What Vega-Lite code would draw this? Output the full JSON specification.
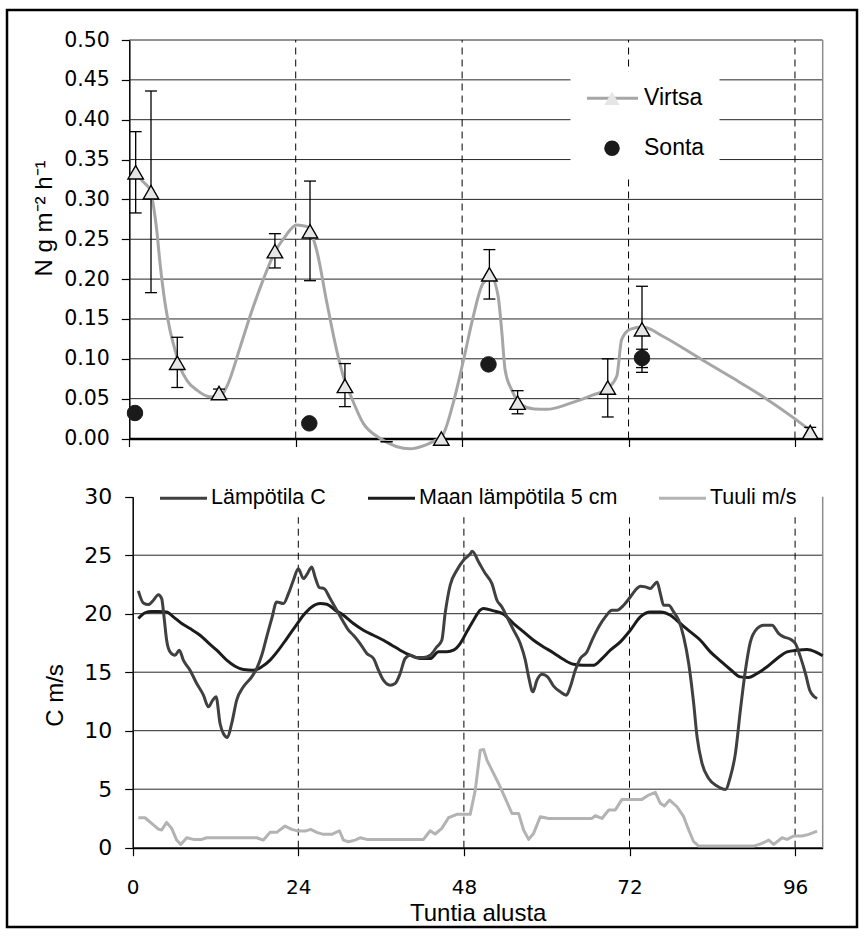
{
  "$schema": "https://vega.github.io/schema/vega-lite/v6.json",
  "width": 850,
  "height": 917,
  "autosize": {"type": "none"},
  "padding": {"left": 7, "top": 10, "right": 10, "bottom": 10},
  "background": "white",
  "config": {
    "view": {"stroke": "black", "strokeWidth": 2.5},
    "axis": {"labelFlush": false, "labelOverlap": false, "grid": false, "domainColor": "black", "tickColor": "black", "labelColor": "black", "titleColor": "black", "titleFontWeight": "normal"}
  },
  "datasets": {
    "topGrid": [{"v": 0.05}, {"v": 0.1}, {"v": 0.15}, {"v": 0.2}, {"v": 0.25}, {"v": 0.3}, {"v": 0.35}, {"v": 0.4}, {"v": 0.45}, {"v": 0.5}],
    "botGrid": [{"v": 5}, {"v": 10}, {"v": 15}, {"v": 20}, {"v": 25}],
    "vlines": [{"h": 24}, {"h": 48}, {"h": 72}, {"h": 96}],
    "virtsa": [
      {"h": 0.92, "v": 0.334}, {"h": 3.13, "v": 0.309}, {"h": 6.92, "v": 0.095}, {"h": 12.94, "v": 0.057},
      {"h": 21.0, "v": 0.235}, {"h": 26.06, "v": 0.26}, {"h": 31.1, "v": 0.066}, {"h": 45.0, "v": 0.0},
      {"h": 51.93, "v": 0.206}, {"h": 56.0, "v": 0.045}, {"h": 69.0, "v": 0.064}, {"h": 73.94, "v": 0.137},
      {"h": 98.2, "v": 0.008}
    ],
    "errors": [
      {"h": 0.92, "lo": 0.283, "hi": 0.385}, {"h": 3.13, "lo": 0.183, "hi": 0.436}, {"h": 6.92, "lo": 0.064, "hi": 0.127},
      {"h": 12.94, "lo": 0.052, "hi": 0.062}, {"h": 21.0, "lo": 0.214, "hi": 0.257}, {"h": 26.06, "lo": 0.198, "hi": 0.323},
      {"h": 31.1, "lo": 0.04, "hi": 0.094}, {"h": 37.1, "lo": -0.004, "hi": -0.004}, {"h": 51.93, "lo": 0.175, "hi": 0.237},
      {"h": 56.0, "lo": 0.031, "hi": 0.06}, {"h": 69.0, "lo": 0.027, "hi": 0.1}, {"h": 73.94, "lo": 0.083, "hi": 0.191},
      {"h": 73.94, "lo": 0.089, "hi": 0.112}, {"h": 98.2, "lo": 0.002, "hi": 0.014}
    ],
    "sonta": [{"h": 0.82, "v": 0.032}, {"h": 25.96, "v": 0.019}, {"h": 51.8, "v": 0.093}, {"h": 73.94, "v": 0.101}],
    "curve": [
      {"h": 0.92, "v": 0.333}, {"h": 2.0, "v": 0.322}, {"h": 3.0, "v": 0.312}, {"h": 3.5, "v": 0.291}, {"h": 3.95, "v": 0.262},
      {"h": 4.43, "v": 0.22}, {"h": 5.15, "v": 0.17}, {"h": 5.87, "v": 0.136}, {"h": 6.6, "v": 0.111}, {"h": 7.3, "v": 0.09},
      {"h": 8.3, "v": 0.073}, {"h": 9.7, "v": 0.061}, {"h": 11.6, "v": 0.0525}, {"h": 13.1, "v": 0.0525}, {"h": 14.05, "v": 0.065},
      {"h": 16.0, "v": 0.115}, {"h": 17.4, "v": 0.153}, {"h": 19.3, "v": 0.199}, {"h": 21.0, "v": 0.234}, {"h": 22.45, "v": 0.253},
      {"h": 24.1, "v": 0.268}, {"h": 25.6, "v": 0.266}, {"h": 27.0, "v": 0.237}, {"h": 28.5, "v": 0.17}, {"h": 29.9, "v": 0.111},
      {"h": 31.1, "v": 0.072}, {"h": 31.6, "v": 0.061}, {"h": 33.75, "v": 0.019}, {"h": 36.2, "v": 0.0}, {"h": 38.5, "v": -0.01},
      {"h": 40.5, "v": -0.013}, {"h": 42.5, "v": -0.009}, {"h": 44.0, "v": -0.003}, {"h": 45.05, "v": 0.002}, {"h": 46.7, "v": 0.044},
      {"h": 48.2, "v": 0.0985}, {"h": 49.6, "v": 0.153}, {"h": 51.05, "v": 0.195}, {"h": 52.26, "v": 0.201}, {"h": 53.2, "v": 0.178},
      {"h": 53.7, "v": 0.136}, {"h": 54.2, "v": 0.086}, {"h": 55.15, "v": 0.061}, {"h": 56.6, "v": 0.042}, {"h": 58.4, "v": 0.037},
      {"h": 60.2, "v": 0.0366}, {"h": 63.55, "v": 0.044}, {"h": 66.9, "v": 0.0546}, {"h": 69.0, "v": 0.063}, {"h": 70.3, "v": 0.078},
      {"h": 71.0, "v": 0.124}, {"h": 72.2, "v": 0.137}, {"h": 74.1, "v": 0.14}, {"h": 77.0, "v": 0.128}, {"h": 81.8, "v": 0.103},
      {"h": 86.6, "v": 0.078}, {"h": 91.4, "v": 0.0525}, {"h": 96.25, "v": 0.023}, {"h": 98.2, "v": 0.01}
    ],
    "air": [
      {"h": 0.82, "v": 21.95}, {"h": 1.54, "v": 20.92}, {"h": 2.27, "v": 20.78}, {"h": 3.0, "v": 21.15}, {"h": 3.72, "v": 21.63},
      {"h": 4.2, "v": 21.29}, {"h": 4.54, "v": 19.73}, {"h": 4.92, "v": 17.73}, {"h": 5.41, "v": 16.74}, {"h": 6.13, "v": 16.45},
      {"h": 6.76, "v": 16.88}, {"h": 7.34, "v": 16.03}, {"h": 8.31, "v": 15.17}, {"h": 9.28, "v": 14.03}, {"h": 10.25, "v": 13.04},
      {"h": 10.97, "v": 12.04}, {"h": 11.6, "v": 12.61}, {"h": 12.08, "v": 12.9}, {"h": 12.66, "v": 10.62}, {"h": 13.14, "v": 9.76},
      {"h": 13.72, "v": 9.42}, {"h": 14.35, "v": 10.62}, {"h": 15.07, "v": 12.61}, {"h": 16.04, "v": 13.75}, {"h": 17.25, "v": 14.6},
      {"h": 17.97, "v": 15.31}, {"h": 18.7, "v": 16.45}, {"h": 19.42, "v": 18.02}, {"h": 20.15, "v": 19.58}, {"h": 20.87, "v": 21.0},
      {"h": 21.84, "v": 20.87}, {"h": 22.57, "v": 21.72}, {"h": 23.29, "v": 22.86}, {"h": 24.0, "v": 23.85}, {"h": 24.74, "v": 23.0},
      {"h": 25.32, "v": 23.43}, {"h": 25.95, "v": 24.0}, {"h": 26.43, "v": 23.14}, {"h": 27.06, "v": 22.23}, {"h": 27.74, "v": 22.15},
      {"h": 28.61, "v": 21.29}, {"h": 29.58, "v": 20.3}, {"h": 30.54, "v": 19.3}, {"h": 31.27, "v": 18.59}, {"h": 31.99, "v": 18.16},
      {"h": 32.96, "v": 17.45}, {"h": 33.93, "v": 16.6}, {"h": 34.9, "v": 16.17}, {"h": 35.62, "v": 15.17}, {"h": 36.34, "v": 14.32},
      {"h": 37.31, "v": 13.89}, {"h": 38.03, "v": 14.03}, {"h": 38.76, "v": 14.89}, {"h": 39.48, "v": 16.17}, {"h": 40.21, "v": 16.45},
      {"h": 41.17, "v": 16.25}, {"h": 42.14, "v": 16.25}, {"h": 43.11, "v": 16.45}, {"h": 44.07, "v": 17.16}, {"h": 44.8, "v": 17.73},
      {"h": 45.28, "v": 20.01}, {"h": 46.01, "v": 22.43}, {"h": 46.98, "v": 23.71}, {"h": 47.94, "v": 24.57}, {"h": 48.9, "v": 25.1},
      {"h": 49.2, "v": 25.33}, {"h": 50.13, "v": 24.42}, {"h": 51.1, "v": 23.43}, {"h": 52.06, "v": 22.57}, {"h": 52.79, "v": 21.15},
      {"h": 53.51, "v": 20.58}, {"h": 54.24, "v": 19.73}, {"h": 55.2, "v": 18.59}, {"h": 56.17, "v": 17.45}, {"h": 56.9, "v": 16.03},
      {"h": 57.38, "v": 14.6}, {"h": 58.0, "v": 13.32}, {"h": 58.59, "v": 14.32}, {"h": 59.31, "v": 14.83}, {"h": 60.13, "v": 14.6},
      {"h": 61.0, "v": 13.81}, {"h": 61.97, "v": 13.32}, {"h": 62.84, "v": 13.04}, {"h": 63.42, "v": 13.75}, {"h": 64.14, "v": 15.17},
      {"h": 64.87, "v": 16.17}, {"h": 65.84, "v": 16.74}, {"h": 66.56, "v": 17.73}, {"h": 67.53, "v": 18.87}, {"h": 68.5, "v": 19.73},
      {"h": 69.46, "v": 20.3}, {"h": 70.19, "v": 20.3}, {"h": 71.15, "v": 20.72}, {"h": 72.12, "v": 21.43}, {"h": 72.84, "v": 22.0},
      {"h": 73.57, "v": 22.35}, {"h": 74.3, "v": 22.29}, {"h": 75.02, "v": 22.15}, {"h": 75.5, "v": 22.43}, {"h": 75.99, "v": 22.72},
      {"h": 76.47, "v": 21.72}, {"h": 76.95, "v": 20.72}, {"h": 77.68, "v": 20.72}, {"h": 78.4, "v": 20.15}, {"h": 79.13, "v": 19.44},
      {"h": 79.85, "v": 18.02}, {"h": 80.58, "v": 15.74}, {"h": 81.3, "v": 12.33}, {"h": 81.79, "v": 9.48}, {"h": 82.51, "v": 7.2},
      {"h": 83.48, "v": 5.92}, {"h": 84.69, "v": 5.27}, {"h": 85.9, "v": 4.98}, {"h": 86.62, "v": 6.06}, {"h": 87.35, "v": 8.06},
      {"h": 88.07, "v": 11.76}, {"h": 88.8, "v": 15.17}, {"h": 89.52, "v": 17.59}, {"h": 90.49, "v": 18.73}, {"h": 91.45, "v": 19.02},
      {"h": 92.66, "v": 19.02}, {"h": 93.63, "v": 18.3}, {"h": 94.35, "v": 18.02}, {"h": 95.32, "v": 17.82}, {"h": 96.04, "v": 17.45},
      {"h": 96.77, "v": 16.31}, {"h": 97.5, "v": 14.89}, {"h": 98.12, "v": 13.46}, {"h": 98.7, "v": 12.95}, {"h": 99.19, "v": 12.75}
    ],
    "soil": [
      {"h": 0.82, "v": 19.58}, {"h": 1.78, "v": 20.07}, {"h": 2.75, "v": 20.18}, {"h": 3.72, "v": 20.18}, {"h": 4.92, "v": 20.15},
      {"h": 5.89, "v": 19.73}, {"h": 7.1, "v": 19.16}, {"h": 8.31, "v": 18.73}, {"h": 9.76, "v": 18.16}, {"h": 10.97, "v": 17.51},
      {"h": 12.18, "v": 16.88}, {"h": 13.62, "v": 16.03}, {"h": 14.83, "v": 15.51}, {"h": 16.04, "v": 15.23}, {"h": 17.49, "v": 15.17},
      {"h": 18.7, "v": 15.46}, {"h": 19.91, "v": 16.03}, {"h": 21.12, "v": 16.88}, {"h": 22.33, "v": 17.88}, {"h": 23.53, "v": 18.87},
      {"h": 24.74, "v": 19.87}, {"h": 25.95, "v": 20.58}, {"h": 27.16, "v": 20.87}, {"h": 28.13, "v": 20.81}, {"h": 29.34, "v": 20.3},
      {"h": 30.54, "v": 19.87}, {"h": 31.99, "v": 19.16}, {"h": 33.44, "v": 18.59}, {"h": 34.9, "v": 18.16}, {"h": 36.34, "v": 17.73},
      {"h": 37.55, "v": 17.31}, {"h": 38.76, "v": 16.88}, {"h": 40.21, "v": 16.45}, {"h": 41.66, "v": 16.17}, {"h": 43.11, "v": 16.17},
      {"h": 44.32, "v": 16.74}, {"h": 45.53, "v": 16.74}, {"h": 46.49, "v": 16.88}, {"h": 47.46, "v": 17.45}, {"h": 48.42, "v": 18.45},
      {"h": 49.39, "v": 19.44}, {"h": 50.36, "v": 20.3}, {"h": 50.85, "v": 20.44}, {"h": 52.3, "v": 20.24}, {"h": 53.75, "v": 19.95},
      {"h": 55.2, "v": 19.16}, {"h": 56.65, "v": 18.45}, {"h": 58.1, "v": 17.73}, {"h": 59.55, "v": 17.16}, {"h": 61.0, "v": 16.65},
      {"h": 62.45, "v": 16.08}, {"h": 63.9, "v": 15.68}, {"h": 65.35, "v": 15.6}, {"h": 66.8, "v": 15.6}, {"h": 68.01, "v": 16.17},
      {"h": 69.22, "v": 16.88}, {"h": 70.67, "v": 17.59}, {"h": 72.12, "v": 18.59}, {"h": 73.57, "v": 19.73}, {"h": 75.02, "v": 20.15},
      {"h": 76.47, "v": 20.15}, {"h": 77.92, "v": 19.87}, {"h": 79.37, "v": 19.16}, {"h": 80.82, "v": 18.45}, {"h": 82.27, "v": 17.73},
      {"h": 83.72, "v": 16.74}, {"h": 85.17, "v": 15.97}, {"h": 86.62, "v": 15.23}, {"h": 88.07, "v": 14.6}, {"h": 89.28, "v": 14.55},
      {"h": 90.49, "v": 14.89}, {"h": 91.94, "v": 15.46}, {"h": 93.39, "v": 16.17}, {"h": 94.84, "v": 16.74}, {"h": 96.29, "v": 16.88},
      {"h": 97.74, "v": 16.94}, {"h": 98.95, "v": 16.74}, {"h": 100.0, "v": 16.4}
    ],
    "wind": [
      {"h": 0.82, "v": 2.56}, {"h": 1.78, "v": 2.56}, {"h": 2.75, "v": 2.08}, {"h": 3.72, "v": 1.59}, {"h": 4.2, "v": 1.51},
      {"h": 4.92, "v": 2.16}, {"h": 5.65, "v": 1.65}, {"h": 6.37, "v": 0.65}, {"h": 6.96, "v": 0.28}, {"h": 7.83, "v": 0.85},
      {"h": 8.79, "v": 0.71}, {"h": 10.0, "v": 0.71}, {"h": 10.72, "v": 0.85}, {"h": 12.66, "v": 0.85}, {"h": 15.07, "v": 0.85},
      {"h": 17.97, "v": 0.85}, {"h": 18.94, "v": 0.65}, {"h": 19.91, "v": 1.31}, {"h": 20.87, "v": 1.31}, {"h": 22.08, "v": 1.85},
      {"h": 23.05, "v": 1.57}, {"h": 24.0, "v": 1.42}, {"h": 24.98, "v": 1.42}, {"h": 25.8, "v": 1.57}, {"h": 26.67, "v": 1.31},
      {"h": 27.64, "v": 1.14}, {"h": 28.85, "v": 1.14}, {"h": 29.96, "v": 1.45}, {"h": 30.54, "v": 0.65}, {"h": 31.27, "v": 0.51},
      {"h": 32.24, "v": 0.65}, {"h": 32.96, "v": 0.85}, {"h": 33.93, "v": 0.71}, {"h": 36.83, "v": 0.71}, {"h": 39.73, "v": 0.71},
      {"h": 42.14, "v": 0.71}, {"h": 43.11, "v": 1.45}, {"h": 43.83, "v": 1.17}, {"h": 44.8, "v": 1.65}, {"h": 45.77, "v": 2.56},
      {"h": 46.98, "v": 2.85}, {"h": 48.91, "v": 2.85}, {"h": 49.65, "v": 4.92}, {"h": 50.37, "v": 8.34}, {"h": 50.85, "v": 8.4},
      {"h": 51.34, "v": 7.49}, {"h": 52.06, "v": 6.63}, {"h": 53.03, "v": 5.49}, {"h": 54.0, "v": 4.21}, {"h": 54.96, "v": 2.93},
      {"h": 55.93, "v": 2.93}, {"h": 56.65, "v": 1.51}, {"h": 57.38, "v": 0.71}, {"h": 58.1, "v": 1.22}, {"h": 59.07, "v": 2.65},
      {"h": 60.28, "v": 2.5}, {"h": 61.97, "v": 2.5}, {"h": 64.39, "v": 2.5}, {"h": 66.56, "v": 2.5}, {"h": 67.04, "v": 2.73},
      {"h": 68.01, "v": 2.5}, {"h": 68.98, "v": 3.22}, {"h": 69.94, "v": 3.22}, {"h": 70.91, "v": 4.13}, {"h": 72.12, "v": 4.13},
      {"h": 73.81, "v": 4.13}, {"h": 74.78, "v": 4.5}, {"h": 75.74, "v": 4.73}, {"h": 76.47, "v": 3.79}, {"h": 77.05, "v": 3.56},
      {"h": 77.82, "v": 4.07}, {"h": 78.89, "v": 3.5}, {"h": 79.85, "v": 2.65}, {"h": 80.58, "v": 1.51}, {"h": 81.3, "v": 0.51},
      {"h": 82.03, "v": 0.14}, {"h": 83.72, "v": 0.14}, {"h": 86.13, "v": 0.14}, {"h": 88.55, "v": 0.14}, {"h": 90.0, "v": 0.14},
      {"h": 91.21, "v": 0.37}, {"h": 92.18, "v": 0.65}, {"h": 92.9, "v": 0.28}, {"h": 94.11, "v": 0.85}, {"h": 94.84, "v": 0.71},
      {"h": 95.8, "v": 1.0}, {"h": 97.01, "v": 1.0}, {"h": 97.98, "v": 1.14}, {"h": 99.19, "v": 1.42}
    ]
  },
  "resolve": {"scale": {"x": "independent", "y": "independent"}, "axis": {"x": "independent", "y": "independent"}},
  "layer": [
    {
      "layer": [
        {
          "data": {"name": "topGrid"},
          "mark": {"type": "rule", "color": "#262626", "strokeWidth": 1},
          "encoding": {
            "y": {"field": "v", "type": "quantitative"},
            "x": {"datum": 0, "type": "quantitative"},
            "x2": {"datum": 100}
          }
        },
        {
          "data": {"name": "vlines"},
          "mark": {"type": "rule", "color": "black", "strokeWidth": 1, "strokeDash": [7, 5]},
          "encoding": {
            "x": {"field": "h", "type": "quantitative"},
            "y": {"datum": 0, "type": "quantitative"},
            "y2": {"datum": 0.5}
          }
        },
        {
          "data": {"values": [{}]},
          "mark": {"type": "rule", "color": "#8c8c8c", "strokeWidth": 1.5},
          "encoding": {
            "x": {"datum": 100, "type": "quantitative"},
            "y": {"datum": 0, "type": "quantitative"},
            "y2": {"datum": 0.5}
          }
        },
        {
          "data": {"name": "curve"},
          "mark": {"type": "line", "strokeWidth": 3, "interpolate": "monotone"},
          "encoding": {
            "x": {"field": "h", "type": "quantitative", "scale": {"domain": [0, 100], "range": [122.3, 815.7], "nice": false, "zero": false},
              "axis": {"orient": "bottom", "offset": -488.5, "values": [0, 24, 48, 72, 96], "labels": false, "domainWidth": 2.5, "tickSize": 8, "tickWidth": 1.2, "title": null}},
            "y": {"field": "v", "type": "quantitative", "scale": {"domain": [0, 0.5], "range": [428.5, 30], "nice": false, "zero": false},
              "axis": {"orient": "left", "offset": -122.3, "values": [0, 0.05, 0.1, 0.15, 0.2, 0.25, 0.3, 0.35, 0.4, 0.45, 0.5], "format": ".2f",
                "domainWidth": 1.5, "tickSize": 8, "tickWidth": 1.2, "labelFont": "DejaVu Sans", "labelFontSize": 20.5, "labelPadding": 12,
                "title": "N g m⁻² h⁻¹", "titleFont": "Liberation Sans", "titleFontSize": 24, "titlePadding": 7, "titleY": 208}},
            "stroke": {"datum": "Virtsa", "type": "nominal",
              "scale": {"domain": ["Virtsa", "Sonta "], "range": ["#a6a6a6", "rgba(255,255,255,0)"]},
              "legend": {"orient": "none", "legendX": 563.5, "legendY": 61.3, "title": null, "direction": "vertical", "symbolType": "stroke", "symbolSize": 2601,
                "symbolStrokeWidth": 3, "clipHeight": 24, "rowPadding": 26, "padding": 15, "fillColor": "white",
                "labelFont": "Liberation Sans", "labelFontSize": 23, "labelOffset": 4.5, "labelOpacity": 0}}
          }
        },
        {
          "data": {"name": "errors"},
          "mark": {"type": "rule", "color": "black", "strokeWidth": 1.3},
          "encoding": {
            "x": {"field": "h", "type": "quantitative"},
            "y": {"field": "lo", "type": "quantitative"},
            "y2": {"field": "hi"}
          }
        },
        {
          "data": {"name": "errors"},
          "mark": {"type": "tick", "orient": "horizontal", "color": "black", "size": 12, "thickness": 1.3, "opacity": 1},
          "encoding": {
            "x": {"field": "h", "type": "quantitative"},
            "y": {"field": "lo", "type": "quantitative"}
          }
        },
        {
          "data": {"name": "errors"},
          "mark": {"type": "tick", "orient": "horizontal", "color": "black", "size": 12, "thickness": 1.3, "opacity": 1},
          "encoding": {
            "x": {"field": "h", "type": "quantitative"},
            "y": {"field": "hi", "type": "quantitative"}
          }
        },
        {
          "data": {"name": "virtsa"},
          "mark": {"type": "point", "filled": true, "size": 240, "stroke": "black", "strokeWidth": 1.4, "opacity": 1},
          "encoding": {
            "x": {"field": "h", "type": "quantitative"},
            "y": {"field": "v", "type": "quantitative"},
            "fill": {"datum": "Virtsa", "type": "nominal", "scale": {"domain": ["Virtsa", "Sonta"], "range": ["#e6e6e6", "#1a1a1a"]},
              "legend": {"orient": "none", "legendX": 578.5, "legendY": 61.3, "title": null, "direction": "vertical", "symbolSize": 240, "symbolStrokeColor": "black",
                "symbolStrokeWidth": 1.4, "clipHeight": 24, "rowPadding": 26, "padding": 15, "labelFont": "Liberation Sans", "labelFontSize": 23,
                "labelOffset": 20.5, "labelColor": "black",
                "encode": {"symbols": {"update": {"stroke": {"value": "black"}, "strokeWidth": {"value": 1.4}, "opacity": {"value": 1}}}}}},
            "shape": {"datum": "Virtsa", "type": "nominal", "scale": {"domain": ["Virtsa", "Sonta"], "range": ["triangle-up", "circle"]},
              "legend": {"orient": "none", "legendX": 578.5, "legendY": 61.3, "title": null, "direction": "vertical", "symbolSize": 240, "symbolStrokeColor": "black",
                "symbolStrokeWidth": 1.4, "clipHeight": 24, "rowPadding": 26, "padding": 15, "labelFont": "Liberation Sans", "labelFontSize": 23,
                "labelOffset": 20.5, "labelColor": "black",
                "encode": {"symbols": {"update": {"stroke": {"value": "black"}, "strokeWidth": {"value": 1.4}, "opacity": {"value": 1}}}}}}
          }
        },
        {
          "data": {"name": "sonta"},
          "mark": {"type": "point", "filled": true, "size": 240, "stroke": "#1a1a1a", "strokeWidth": 1, "opacity": 1},
          "encoding": {
            "x": {"field": "h", "type": "quantitative"},
            "y": {"field": "v", "type": "quantitative"},
            "fill": {"datum": "Sonta", "type": "nominal"},
            "shape": {"datum": "Sonta", "type": "nominal"}
          }
        }
      ]
    },
    {
      "layer": [
        {
          "data": {"name": "botGrid"},
          "mark": {"type": "rule", "color": "#262626", "strokeWidth": 1},
          "encoding": {
            "y": {"field": "v", "type": "quantitative"},
            "x": {"datum": 0, "type": "quantitative"},
            "x2": {"datum": 100}
          }
        },
        {
          "data": {"name": "vlines"},
          "mark": {"type": "rule", "color": "black", "strokeWidth": 1, "strokeDash": [7, 5]},
          "encoding": {
            "x": {"field": "h", "type": "quantitative"},
            "y": {"datum": 0, "type": "quantitative"},
            "y2": {"datum": 30}
          }
        },
        {
          "data": {"values": [{}]},
          "mark": {"type": "rule", "color": "#8c8c8c", "strokeWidth": 1.5},
          "encoding": {
            "x": {"datum": 100, "type": "quantitative"},
            "y": {"datum": 0, "type": "quantitative"},
            "y2": {"datum": 30}
          }
        },
        {
          "data": {"name": "wind"},
          "mark": {"type": "line", "strokeWidth": 3, "interpolate": "linear", "strokeJoin": "round"},
          "encoding": {
            "x": {"field": "h", "type": "quantitative", "scale": {"domain": [0, 100], "range": [125.7, 815.7], "nice": false, "zero": false},
              "axis": {"orient": "bottom", "offset": -79.3, "values": [0, 24, 48, 72, 96], "format": "d", "domainWidth": 2, "tickSize": 8, "tickWidth": 1.2,
                "labelFont": "DejaVu Sans", "labelFontSize": 20, "labelPadding": 22,
                "title": "Tuntia alusta", "titleFont": "Liberation Sans", "titleFontSize": 24, "titlePadding": 4}},
            "y": {"field": "v", "type": "quantitative", "scale": {"domain": [0, 30], "range": [837.7, 486.7], "nice": false, "zero": false},
              "axis": {"orient": "left", "offset": -125.7, "values": [0, 5, 10, 15, 20, 25, 30], "format": "d",
                "domainWidth": 1.5, "tickSize": 8, "tickWidth": 1.2, "labelFont": "DejaVu Sans", "labelFontSize": 22, "labelPadding": 13,
                "title": "C m/s", "titleFont": "Liberation Sans", "titleFontSize": 24, "titlePadding": 16, "titleY": 685}},
            "color": {"datum": "Tuuli m/s", "type": "nominal",
              "scale": {"domain": ["Lämpötila C", "Maan lämpötila 5 cm", "Tuuli m/s"], "range": ["#404040", "#1c1c1c", "#b3b3b3"]},
              "legend": {"orient": "none", "legendX": 144.5, "legendY": 469.3, "direction": "horizontal", "title": null, "symbolType": "stroke",
                "symbolSize": 2209, "symbolStrokeWidth": 3, "clipHeight": 24, "columnPadding": 40, "padding": 7, "fillColor": "white",
                "labelFont": "Liberation Sans", "labelFontSize": 21.5, "labelOffset": 2.5, "labelColor": "black", "labelLimit": 400}}
          }
        },
        {
          "data": {"name": "soil"},
          "mark": {"type": "line", "strokeWidth": 3, "interpolate": "monotone", "strokeJoin": "round"},
          "encoding": {
            "x": {"field": "h", "type": "quantitative"},
            "y": {"field": "v", "type": "quantitative"},
            "color": {"datum": "Maan lämpötila 5 cm", "type": "nominal"}
          }
        },
        {
          "data": {"name": "air"},
          "mark": {"type": "line", "strokeWidth": 3, "interpolate": "monotone", "strokeJoin": "round"},
          "encoding": {
            "x": {"field": "h", "type": "quantitative"},
            "y": {"field": "v", "type": "quantitative"},
            "color": {"datum": "Lämpötila C", "type": "nominal"}
          }
        }
      ]
    }
  ]
}
